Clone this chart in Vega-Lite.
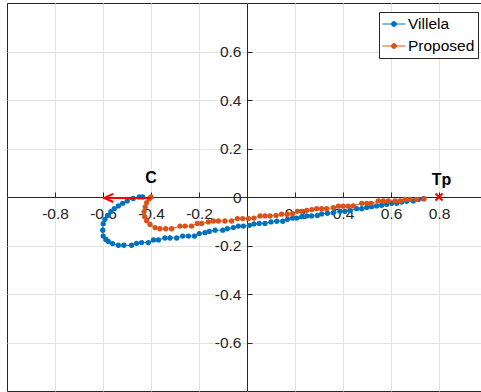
{
  "$schema": "https://vega.github.io/schema/vega-lite/v6.json",
  "width": 474,
  "height": 388,
  "autosize": {"type": "none"},
  "padding": {"left": 7, "top": 3, "right": 0, "bottom": 1},
  "config": {
    "view": {"stroke": "#262626", "strokeWidth": 1},
    "font": "Liberation Sans"
  },
  "datasets": {
    "traj": [
      {"m":"Villela","i":1,"x":-0.435,"y":0.0},
      {"m":"Villela","i":2,"x":-0.449,"y":0.0},
      {"m":"Villela","i":3,"x":-0.474,"y":-0.006},
      {"m":"Villela","i":4,"x":-0.499,"y":-0.016},
      {"m":"Villela","i":5,"x":-0.518,"y":-0.026},
      {"m":"Villela","i":6,"x":-0.536,"y":-0.037},
      {"m":"Villela","i":7,"x":-0.553,"y":-0.048},
      {"m":"Villela","i":8,"x":-0.567,"y":-0.060},
      {"m":"Villela","i":9,"x":-0.581,"y":-0.076},
      {"m":"Villela","i":10,"x":-0.592,"y":-0.092},
      {"m":"Villela","i":11,"x":-0.599,"y":-0.110},
      {"m":"Villela","i":12,"x":-0.601,"y":-0.137},
      {"m":"Villela","i":13,"x":-0.599,"y":-0.161},
      {"m":"Villela","i":14,"x":-0.588,"y":-0.175},
      {"m":"Villela","i":15,"x":-0.578,"y":-0.183},
      {"m":"Villela","i":16,"x":-0.560,"y":-0.192},
      {"m":"Villela","i":17,"x":-0.536,"y":-0.199},
      {"m":"Villela","i":18,"x":-0.513,"y":-0.199},
      {"m":"Villela","i":19,"x":-0.481,"y":-0.199},
      {"m":"Villela","i":20,"x":-0.460,"y":-0.191},
      {"m":"Villela","i":21,"x":-0.439,"y":-0.188},
      {"m":"Villela","i":22,"x":-0.411,"y":-0.188},
      {"m":"Villela","i":23,"x":-0.390,"y":-0.177},
      {"m":"Villela","i":24,"x":-0.369,"y":-0.177},
      {"m":"Villela","i":25,"x":-0.342,"y":-0.169},
      {"m":"Villela","i":26,"x":-0.321,"y":-0.169},
      {"m":"Villela","i":27,"x":-0.293,"y":-0.169},
      {"m":"Villela","i":28,"x":-0.268,"y":-0.161},
      {"m":"Villela","i":29,"x":-0.244,"y":-0.161},
      {"m":"Villela","i":30,"x":-0.219,"y":-0.161},
      {"m":"Villela","i":31,"x":-0.199,"y":-0.151},
      {"m":"Villela","i":32,"x":-0.175,"y":-0.147},
      {"m":"Villela","i":33,"x":-0.157,"y":-0.142},
      {"m":"Villela","i":34,"x":-0.133,"y":-0.137},
      {"m":"Villela","i":35,"x":-0.101,"y":-0.137},
      {"m":"Villela","i":36,"x":-0.082,"y":-0.131},
      {"m":"Villela","i":37,"x":-0.057,"y":-0.126},
      {"m":"Villela","i":38,"x":-0.036,"y":-0.120},
      {"m":"Villela","i":39,"x":-0.015,"y":-0.120},
      {"m":"Villela","i":40,"x":0.010,"y":-0.117},
      {"m":"Villela","i":41,"x":0.029,"y":-0.111},
      {"m":"Villela","i":42,"x":0.051,"y":-0.109},
      {"m":"Villela","i":43,"x":0.075,"y":-0.109},
      {"m":"Villela","i":44,"x":0.100,"y":-0.103},
      {"m":"Villela","i":45,"x":0.124,"y":-0.100},
      {"m":"Villela","i":46,"x":0.149,"y":-0.100},
      {"m":"Villela","i":47,"x":0.169,"y":-0.092},
      {"m":"Villela","i":48,"x":0.190,"y":-0.087},
      {"m":"Villela","i":49,"x":0.207,"y":-0.087},
      {"m":"Villela","i":50,"x":0.228,"y":-0.081},
      {"m":"Villela","i":51,"x":0.249,"y":-0.078},
      {"m":"Villela","i":52,"x":0.269,"y":-0.078},
      {"m":"Villela","i":53,"x":0.293,"y":-0.076},
      {"m":"Villela","i":54,"x":0.311,"y":-0.070},
      {"m":"Villela","i":55,"x":0.335,"y":-0.067},
      {"m":"Villela","i":56,"x":0.360,"y":-0.065},
      {"m":"Villela","i":57,"x":0.388,"y":-0.059},
      {"m":"Villela","i":58,"x":0.408,"y":-0.059},
      {"m":"Villela","i":59,"x":0.429,"y":-0.055},
      {"m":"Villela","i":60,"x":0.457,"y":-0.048},
      {"m":"Villela","i":61,"x":0.478,"y":-0.048},
      {"m":"Villela","i":62,"x":0.499,"y":-0.043},
      {"m":"Villela","i":63,"x":0.519,"y":-0.040},
      {"m":"Villela","i":64,"x":0.540,"y":-0.037},
      {"m":"Villela","i":65,"x":0.561,"y":-0.034},
      {"m":"Villela","i":66,"x":0.582,"y":-0.030},
      {"m":"Villela","i":67,"x":0.603,"y":-0.026},
      {"m":"Villela","i":68,"x":0.624,"y":-0.026},
      {"m":"Villela","i":69,"x":0.644,"y":-0.021},
      {"m":"Villela","i":70,"x":0.665,"y":-0.018},
      {"m":"Villela","i":71,"x":0.693,"y":-0.016},
      {"m":"Villela","i":72,"x":0.714,"y":-0.010},
      {"m":"Villela","i":73,"x":0.735,"y":-0.007},
      {"m":"Proposed","i":1,"x":-0.400,"y":0.0},
      {"m":"Proposed","i":2,"x":-0.408,"y":-0.007},
      {"m":"Proposed","i":3,"x":-0.418,"y":-0.023},
      {"m":"Proposed","i":4,"x":-0.424,"y":-0.041},
      {"m":"Proposed","i":5,"x":-0.429,"y":-0.060},
      {"m":"Proposed","i":6,"x":-0.426,"y":-0.081},
      {"m":"Proposed","i":7,"x":-0.418,"y":-0.098},
      {"m":"Proposed","i":8,"x":-0.404,"y":-0.113},
      {"m":"Proposed","i":9,"x":-0.383,"y":-0.126},
      {"m":"Proposed","i":10,"x":-0.363,"y":-0.131},
      {"m":"Proposed","i":11,"x":-0.339,"y":-0.131},
      {"m":"Proposed","i":12,"x":-0.314,"y":-0.131},
      {"m":"Proposed","i":13,"x":-0.279,"y":-0.120},
      {"m":"Proposed","i":14,"x":-0.258,"y":-0.120},
      {"m":"Proposed","i":15,"x":-0.231,"y":-0.120},
      {"m":"Proposed","i":16,"x":-0.207,"y":-0.109},
      {"m":"Proposed","i":17,"x":-0.189,"y":-0.109},
      {"m":"Proposed","i":18,"x":-0.161,"y":-0.103},
      {"m":"Proposed","i":19,"x":-0.140,"y":-0.099},
      {"m":"Proposed","i":20,"x":-0.119,"y":-0.099},
      {"m":"Proposed","i":21,"x":-0.092,"y":-0.099},
      {"m":"Proposed","i":22,"x":-0.064,"y":-0.099},
      {"m":"Proposed","i":23,"x":-0.040,"y":-0.089},
      {"m":"Proposed","i":24,"x":-0.018,"y":-0.089},
      {"m":"Proposed","i":25,"x":0.006,"y":-0.089},
      {"m":"Proposed","i":26,"x":0.029,"y":-0.087},
      {"m":"Proposed","i":27,"x":0.054,"y":-0.078},
      {"m":"Proposed","i":28,"x":0.075,"y":-0.078},
      {"m":"Proposed","i":29,"x":0.096,"y":-0.078},
      {"m":"Proposed","i":30,"x":0.121,"y":-0.076},
      {"m":"Proposed","i":31,"x":0.144,"y":-0.071},
      {"m":"Proposed","i":32,"x":0.168,"y":-0.071},
      {"m":"Proposed","i":33,"x":0.190,"y":-0.069},
      {"m":"Proposed","i":34,"x":0.210,"y":-0.059},
      {"m":"Proposed","i":35,"x":0.228,"y":-0.059},
      {"m":"Proposed","i":36,"x":0.249,"y":-0.055},
      {"m":"Proposed","i":37,"x":0.270,"y":-0.052},
      {"m":"Proposed","i":38,"x":0.290,"y":-0.048},
      {"m":"Proposed","i":39,"x":0.311,"y":-0.048},
      {"m":"Proposed","i":40,"x":0.332,"y":-0.048},
      {"m":"Proposed","i":41,"x":0.360,"y":-0.044},
      {"m":"Proposed","i":42,"x":0.381,"y":-0.038},
      {"m":"Proposed","i":43,"x":0.401,"y":-0.038},
      {"m":"Proposed","i":44,"x":0.422,"y":-0.038},
      {"m":"Proposed","i":45,"x":0.443,"y":-0.037},
      {"m":"Proposed","i":46,"x":0.478,"y":-0.026},
      {"m":"Proposed","i":47,"x":0.499,"y":-0.026},
      {"m":"Proposed","i":48,"x":0.517,"y":-0.026},
      {"m":"Proposed","i":49,"x":0.547,"y":-0.016},
      {"m":"Proposed","i":50,"x":0.568,"y":-0.016},
      {"m":"Proposed","i":51,"x":0.589,"y":-0.016},
      {"m":"Proposed","i":52,"x":0.617,"y":-0.016},
      {"m":"Proposed","i":53,"x":0.638,"y":-0.016},
      {"m":"Proposed","i":54,"x":0.658,"y":-0.010},
      {"m":"Proposed","i":55,"x":0.679,"y":-0.010},
      {"m":"Proposed","i":56,"x":0.707,"y":-0.010},
      {"m":"Proposed","i":57,"x":0.738,"y":-0.007}
    ],
    "arrow": [{"x": -0.4, "x2": -0.595, "y": -0.004}],
    "target": [{"x": 0.8, "y": 0.0}],
    "labels": [
      {"x": -0.4, "y": 0.059, "t": "C"},
      {"x": 0.81, "y": 0.049, "t": "Tp"}
    ]
  },
  "layer": [
    {
      "data": {"name": "traj"},
      "mark": {"type": "line", "strokeWidth": 1},
      "encoding": {
        "x": {
          "field": "x", "type": "quantitative", "title": null,
          "scale": {"domain": [-1, 0.975], "nice": false, "zero": false},
          "axis": {
            "orient": "bottom", "offset": -194,
            "values": [-0.8, -0.6, -0.4, -0.2, 0, 0.2, 0.4, 0.6, 0.8],
            "grid": true, "gridColor": "#e3e3e3", "gridWidth": 1,
            "domainColor": "#262626", "domainWidth": 1,
            "tickColor": "#262626", "tickSize": -5, "tickWidth": 1,
            "labelPadding": 14, "labelFontSize": 15.5, "labelColor": "#262626",
            "labelFlush": false, "labelOverlap": false,
            "labelExpr": "datum.value == 0 ? '' : (datum.value < 0 ? '-' : '') + format(abs(datum.value), '.1f')"
          }
        },
        "y": {
          "field": "y", "type": "quantitative", "title": null,
          "scale": {"domain": [-0.8, 0.8], "nice": false, "zero": false},
          "axis": {
            "orient": "left", "offset": -240,
            "values": [-0.6, -0.4, -0.2, 0, 0.2, 0.4, 0.6],
            "grid": true, "gridColor": "#e3e3e3", "gridWidth": 1,
            "domainColor": "#262626", "domainWidth": 1,
            "tickColor": "#262626", "tickSize": -5, "tickWidth": 1,
            "labelPadding": 11, "labelFontSize": 15.5, "labelColor": "#262626",
            "labelFlush": false, "labelOverlap": false,
            "labelExpr": "datum.value == 0 ? '0' : (datum.value < 0 ? '-' : '') + format(abs(datum.value), '.1f')"
          }
        },
        "color": {
          "field": "m", "type": "nominal",
          "scale": {"domain": ["Villela", "Proposed"], "range": ["#0072BD", "#D95319"]},
          "legend": {
            "title": null, "orient": "none", "legendX": 372, "legendY": 9,
            "strokeColor": "#262626", "fillColor": "white", "padding": 3,
            "labelFontSize": 15.5, "labelColor": "#000000", "labelOffset": 8,
            "symbolType": "M-1,0H1.7M0.06,0A0.29,0.29,0,1,1,0.64,0A0.29,0.29,0,1,1,0.06,0Z",
            "symbolSize": 289, "symbolStrokeWidth": 1, "rowPadding": 4,
            "encode": {
              "symbols": {
                "update": {
                  "fill": {"scale": "color", "field": "value"},
                  "stroke": {"scale": "color", "field": "value"},
                  "opacity": {"value": 1}
                }
              }
            }
          }
        },
        "order": {"field": "i", "type": "quantitative"}
      }
    },
    {
      "data": {"name": "traj"},
      "mark": {"type": "point", "filled": true, "size": 28, "opacity": 1},
      "encoding": {
        "x": {"field": "x", "type": "quantitative", "scale": {"domain": [-1, 0.975], "nice": false, "zero": false}},
        "y": {"field": "y", "type": "quantitative", "scale": {"domain": [-0.8, 0.8], "nice": false, "zero": false}},
        "color": {"field": "m", "type": "nominal"}
      }
    },
    {
      "data": {"name": "arrow"},
      "mark": {"type": "rule", "color": "#ff0000", "strokeWidth": 2},
      "encoding": {
        "x": {"field": "x", "type": "quantitative"},
        "x2": {"field": "x2"},
        "y": {"field": "y", "type": "quantitative"}
      }
    },
    {
      "data": {"name": "arrow"},
      "mark": {"type": "point", "shape": "M2,-0.9L0,0L2,0.9", "size": 81, "filled": false, "stroke": "#ff0000", "strokeWidth": 2, "opacity": 1},
      "encoding": {
        "x": {"field": "x2", "type": "quantitative"},
        "y": {"field": "y", "type": "quantitative"}
      }
    },
    {
      "data": {"name": "target"},
      "mark": {"type": "point", "shape": "M-1,-1L1,1M-1,1L1,-1", "size": 49, "filled": false, "stroke": "#ff0000", "strokeWidth": 2, "opacity": 1},
      "encoding": {
        "x": {"field": "x", "type": "quantitative"},
        "y": {"field": "y", "type": "quantitative"}
      }
    },
    {
      "data": {"name": "labels"},
      "mark": {"type": "text", "fontSize": 16, "fontWeight": "bold", "align": "center", "baseline": "alphabetic", "color": "#000000"},
      "encoding": {
        "x": {"field": "x", "type": "quantitative"},
        "y": {"field": "y", "type": "quantitative"},
        "text": {"field": "t"}
      }
    }
  ]
}
